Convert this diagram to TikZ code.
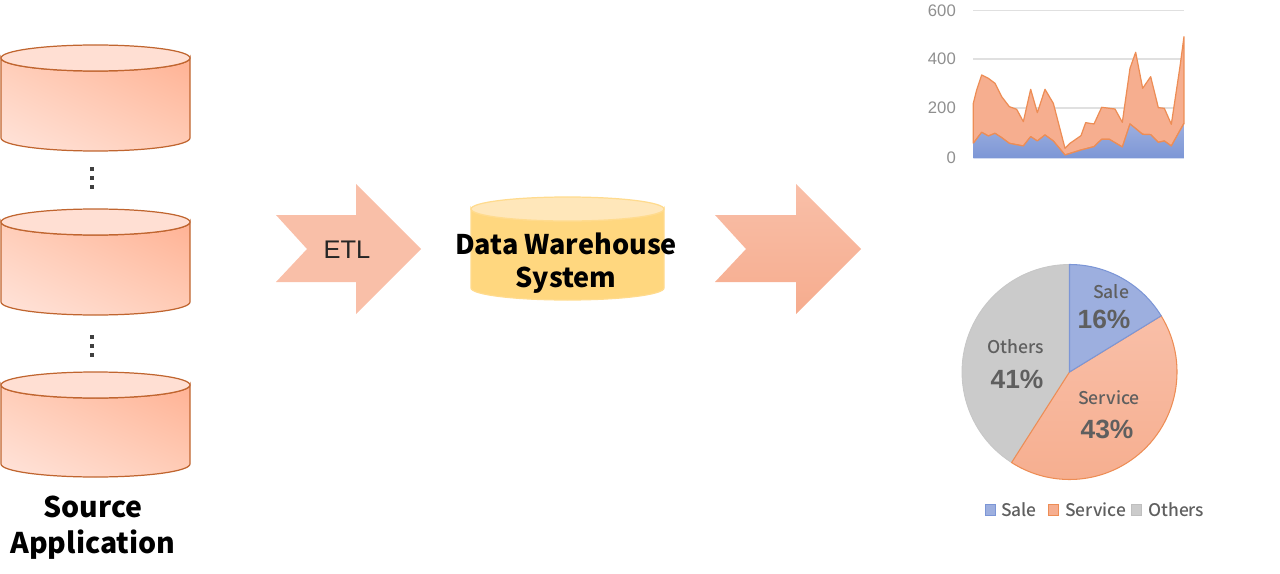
\documentclass[tikz,border=0pt]{standalone}
\usepackage{fontspec}
\setmainfont{Noto Sans CJK KR}
\newfontfamily\medfont{Noto Sans CJK KR Medium}
\newfontfamily\arialfont{Liberation Sans}
\usetikzlibrary{positioning, calc, shadings}

\definecolor{dbedge}{HTML}{C0652F}
\definecolor{dblight}{HTML}{FFE4DB}
\definecolor{dbmid}{HTML}{FFCDB8}
\definecolor{dbdark}{HTML}{FFB294}
\definecolor{dbtop}{HTML}{FFDFD3}
\definecolor{dwedge}{HTML}{FFDB8E}
\definecolor{dwfill}{HTML}{FFD77F}
\definecolor{dwtop}{HTML}{FFE7BA}
\definecolor{arrowlight}{HTML}{F9BFA8}
\definecolor{arrowdark}{HTML}{F6AC8E}
\definecolor{saleblue}{HTML}{9DAFDF}
\definecolor{salebase}{HTML}{7C96D6}
\definecolor{serviceorange}{HTML}{ED8D55}
\definecolor{serviceareafill}{HTML}{F6AE8F}
\definecolor{othersgray}{HTML}{CBCBCB}
\definecolor{labelgray}{HTML}{5F5F5F}
\definecolor{axisgray}{HTML}{8F8F8F}

\tikzset{
    dots/.style={fill=black!75, inner sep=0pt, minimum size=2.2pt},
    piename/.style={text=labelgray, font=\medfont\fontsize{10}{10}\selectfont},
    piepct/.style={text=labelgray, font=\arialfont\bfseries\fontsize{15}{15}\selectfont},
    axisnum/.style={text=axisgray, anchor=east, font=\arialfont\fontsize{9.5}{9.5}\selectfont},
    legendname/.style={text=labelgray, anchor=west, font=\medfont\fontsize{9.9}{9.9}\selectfont},
    legendbox/.style={minimum size=6pt, inner sep=0pt, line width=0.7pt}
}

% Cylinder: center-x, ellipse-y, half width, ellipse radius, height, body fill, top fill, edge
\def\dbcylinder#1#2#3#4#5#6#7#8{
    \begin{scope}[shift={(#1,#2)}]
    \path[#6, draw=#8, line width=0.7pt]
        (-#3,0) -- (-#3,#5) arc[start angle=180, end angle=0, x radius=#3, y radius=#4]
        -- (#3,0) arc[start angle=0, end angle=180, x radius=#3, y radius=#4] -- cycle;
    \draw[fill=#7, draw=#8, line width=0.7pt] (0,0) ellipse[x radius=#3, y radius=#4];
    \end{scope}
}

\def\blockarrow#1#2#3{
    \begin{scope}[shift={(#1,0)}]
    \path[#3] (0,215) -- (#2,215) -- (#2,184) -- (#2+65,249) -- (#2,314) -- (#2,282)
        -- (0,282) -- (31,249) -- cycle;
    \end{scope}
}

\begin{document}
\begin{tikzpicture}[x=0.02cm, y=-0.02cm]
\useasboundingbox (0,0) rectangle (1280,574);

% Source databases
\tikzset{srcbody/.style={shade, lower left=dblight, upper right=dbdark, upper left=dbmid, lower right=dbmid}}
\dbcylinder{95.5}{58}{94.5}{13}{80}{srcbody}{dbtop}{dbedge}
\dbcylinder{95.5}{222}{94.5}{13}{80}{srcbody}{dbtop}{dbedge}
\dbcylinder{95.5}{385}{94.5}{13}{79}{srcbody}{dbtop}{dbedge}

\foreach \dy in {169,178,187,337,346,355} {
    \node[dots] (dot\dy) at (92,\dy) {};
}

\node[font=\bfseries\fontsize{16.2}{20.5}\selectfont, align=center] (source) at (93,528) {Source\\Application};

% ETL arrow and warehouse
\blockarrow{276}{80}{fill=arrowlight}
\node[font=\arialfont\fontsize{14.5}{14.5}\selectfont, text=black!85] (etl) at (347,250) {ETL};

\dbcylinder{567.5}{209}{96.5}{12}{79}{fill=dwfill}{dwtop}{dwedge}
\node[font=\bfseries\fontsize{15.4}{18.8}\selectfont, align=center] (warehouse) at (566,263) {Data Warehouse\\System};

\blockarrow{715}{81}{shade, top color=arrowlight, bottom color=arrowdark}

% Area chart
\foreach \gy/\gv in {10.7/600,59/400,108/200,157.5/0} {
    \draw[black!12, line width=0.6pt] (973,\gy) -- (1184,\gy);
    \node[axisnum] (axis\gv) at (962,\gy) {\gv};
}
\begin{scope}[shift={(950,0)}, scale=0.3333, line join=round]
\draw[fill=serviceareafill, draw=serviceorange, line width=0.7pt]
    (70,430) -- (70,310) -- (80,270) -- (95,225) -- (115,235) -- (135,250) -- (155,290) -- (178,320)
    -- (200,328) -- (220,365) -- (242,268) -- (262,338) -- (285,268) -- (310,310) -- (345,445)
    -- (360,430) -- (393,407) -- (407,368) -- (432,372) -- (455,322) -- (495,327) -- (517,367)
    -- (540,205) -- (557,157) -- (578,265) -- (602,230) -- (625,323) -- (643,325) -- (664,373)
    -- (690,200) -- (702,110) -- (702,370) -- (664,438) -- (643,423) -- (625,427) -- (602,404)
    -- (578,403) -- (540,372) -- (517,441) -- (478,418) -- (455,418) -- (432,440) -- (393,450)
    -- (345,465) -- (310,423) -- (285,405) -- (262,423) -- (242,410) -- (220,438) -- (178,430)
    -- (155,413) -- (135,400) -- (115,408) -- (95,397) -- cycle;
\path[shade, top color=saleblue, bottom color=salebase]
    (70,475) -- (70,430) -- (95,397) -- (115,408) -- (135,400) -- (155,413) -- (178,430)
    -- (220,438) -- (242,410) -- (262,423) -- (285,405) -- (310,423) -- (345,465) -- (393,450)
    -- (432,440) -- (455,418) -- (478,418) -- (517,441) -- (540,372) -- (578,403) -- (602,404)
    -- (625,427) -- (643,423) -- (664,438) -- (702,370) -- (702,475) -- cycle;
\draw[serviceorange, line width=0.7pt]
    (70,430) -- (95,397) -- (115,408) -- (135,400) -- (155,413) -- (178,430)
    -- (220,438) -- (242,410) -- (262,423) -- (285,405) -- (310,423) -- (345,465) -- (393,450)
    -- (432,440) -- (455,418) -- (478,418) -- (517,441) -- (540,372) -- (578,403) -- (602,404)
    -- (625,427) -- (643,423) -- (664,438) -- (702,370);
\end{scope}

% Pie chart
\coordinate (pie) at (1069.5,372);
\draw[fill=othersgray, draw=black!22, line width=0.5pt]
    (pie) -- ++(122.6:107.5) arc[start angle=122.6, end angle=270, radius=107.5] -- cycle;
\draw[shade, top color=arrowlight, bottom color=serviceareafill, draw=serviceorange, line width=0.6pt]
    (pie) -- ++(-31.5:107.5) arc[start angle=-31.5, end angle=122.6, radius=107.5] -- cycle;
\draw[fill=saleblue, draw=salebase, line width=0.6pt]
    (pie) -- ++(-90:107.5) arc[start angle=-90, end angle=-31.5, radius=107.5] -- cycle;

\node[piename] (salename) at (1111,291.5) {Sale};
\node[piepct] (salepct) at (1104,319.5) {16\%};
\node[piename] (othersname) at (1016,346.5) {Others};
\node[piepct] (otherspct) at (1017,379.5) {41\%};
\node[piename] (servicename) at (1109,397.5) {Service};
\node[piepct] (servicepct) at (1107,429.5) {43\%};

% Legend
\node[legendbox, fill=saleblue, draw=salebase] (salebox) at (990.5,510) {};
\node[legendname] (salelabel) at (995,509.5) {Sale};
\node[legendbox, fill=serviceareafill, draw=serviceorange] (servicebox) at (1053.5,510) {};
\node[legendname] (servicelabel) at (1059,509.5) {Service};
\node[legendbox, fill=othersgray, draw=black!25] (othersbox) at (1136.5,510) {};
\node[legendname] (otherslabel) at (1142,509.5) {Others};

\end{tikzpicture}
\end{document}
